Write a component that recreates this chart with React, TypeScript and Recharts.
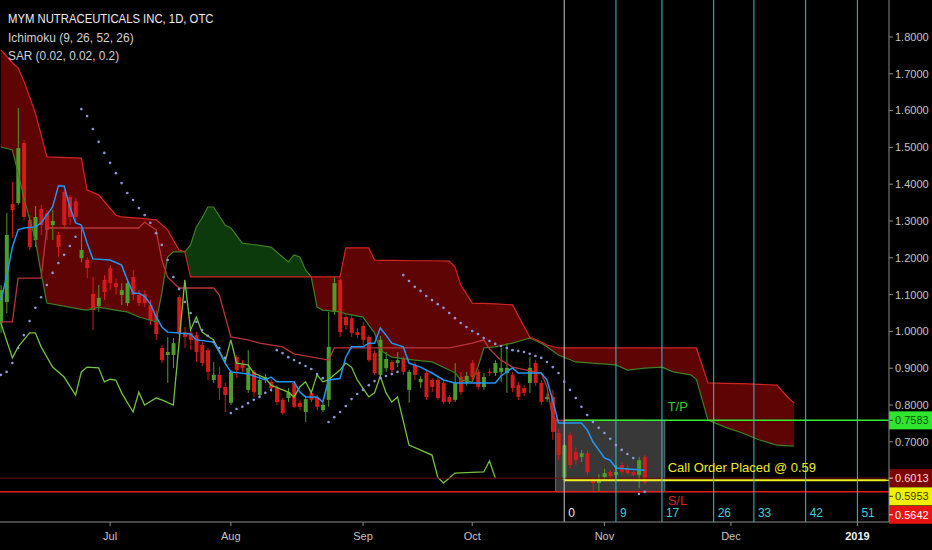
import React from 'react';
import {
  ComposedChart,
  Bar,
  Line,
  Area,
  XAxis,
  YAxis,
  ReferenceLine,
  ReferenceArea,
  ReferenceDot,
} from 'recharts';

// Daily candles, one per bar: [open, high, low, close]
const candles: number[][] = [
  [1.023, 1.126, 0.996, 1.112], [1.08, 1.322, 1.05, 1.262], [1.346, 1.406, 1.254, 1.33], [1.349, 1.607, 1.343, 1.498],
  [1.512, 1.52, 1.303, 1.311], [1.303, 1.316, 1.221, 1.229], [1.248, 1.341, 1.229, 1.311], [1.333, 1.344, 1.262, 1.289],
  [1.322, 1.33, 1.248, 1.276], [1.289, 1.33, 1.248, 1.3], [1.262, 1.27, 1.202, 1.229], [1.379, 1.384, 1.281, 1.289],
  [1.365, 1.371, 1.289, 1.311], [1.354, 1.362, 1.297, 1.311], [1.199, 1.281, 1.188, 1.221], [1.194, 1.202, 1.145, 1.172],
  [1.102, 1.148, 1.004, 1.058], [1.069, 1.126, 1.053, 1.091], [1.14, 1.153, 1.085, 1.107], [1.172, 1.18, 1.112, 1.131],
  [1.131, 1.145, 1.099, 1.12], [1.099, 1.131, 1.072, 1.112], [1.077, 1.14, 1.069, 1.131], [1.148, 1.167, 1.085, 1.099],
  [1.099, 1.112, 1.069, 1.077], [1.102, 1.112, 1.066, 1.077], [1.072, 1.085, 1.017, 1.031], [1.045, 1.058, 0.977, 0.993],
  [0.955, 0.963, 0.914, 0.922], [0.936, 0.985, 0.86, 0.944], [0.936, 0.982, 0.9, 0.968], [1.093, 1.099, 0.985, 0.996],
  [0.998, 1.012, 0.955, 0.985], [0.996, 1.004, 0.949, 0.977], [0.99, 0.998, 0.917, 0.944], [0.963, 0.971, 0.906, 0.914],
  [0.949, 0.955, 0.868, 0.89], [0.868, 0.917, 0.86, 0.882], [0.882, 0.903, 0.814, 0.846], [0.849, 0.86, 0.781, 0.827],
  [0.806, 0.895, 0.8, 0.89], [0.93, 0.936, 0.873, 0.895], [0.909, 0.922, 0.89, 0.901], [0.841, 0.949, 0.833, 0.901],
  [0.89, 0.895, 0.822, 0.835], [0.827, 0.882, 0.819, 0.868], [0.868, 0.884, 0.86, 0.876], [0.863, 0.871, 0.835, 0.846],
  [0.846, 0.854, 0.8, 0.808], [0.814, 0.819, 0.773, 0.778], [0.819, 0.846, 0.808, 0.835], [0.86, 0.863, 0.792, 0.795],
  [0.806, 0.814, 0.786, 0.795], [0.781, 0.825, 0.754, 0.816], [0.833, 0.841, 0.808, 0.814], [0.822, 0.827, 0.786, 0.795],
  [0.786, 0.806, 0.781, 0.8], [0.814, 1.053, 0.795, 0.958], [1.053, 1.15, 1.045, 1.131], [1.14, 1.145, 0.985, 0.998],
  [1.039, 1.05, 1.004, 1.017], [1.036, 1.045, 0.985, 0.996], [0.998, 1.009, 0.982, 0.99], [1.015, 1.026, 0.963, 0.977],
  [0.985, 0.99, 0.917, 0.922], [0.941, 0.949, 0.882, 0.887], [0.882, 0.988, 0.873, 0.977], [0.9, 0.944, 0.89, 0.925],
  [0.917, 0.922, 0.884, 0.895], [0.914, 0.944, 0.903, 0.922], [0.925, 0.933, 0.882, 0.89], [0.841, 0.895, 0.806, 0.89],
  [0.909, 0.917, 0.868, 0.882], [0.862, 0.879, 0.846, 0.871], [0.887, 0.895, 0.814, 0.822], [0.868, 0.873, 0.835, 0.849],
  [0.868, 0.876, 0.814, 0.819], [0.86, 0.868, 0.803, 0.808], [0.822, 0.827, 0.803, 0.808], [0.814, 0.914, 0.808, 0.86],
  [0.876, 0.89, 0.827, 0.835], [0.86, 0.89, 0.852, 0.879], [0.914, 0.922, 0.868, 0.876], [0.89, 0.898, 0.841, 0.849],
  [0.849, 0.887, 0.841, 0.876], [0.89, 0.9, 0.879, 0.887], [0.887, 0.922, 0.879, 0.914], [0.89, 0.955, 0.862, 0.901],
  [0.887, 0.968, 0.833, 0.901], [0.882, 0.89, 0.835, 0.846], [0.854, 0.862, 0.814, 0.822], [0.846, 0.854, 0.825, 0.833],
  [0.86, 0.93, 0.833, 0.901], [0.914, 0.922, 0.852, 0.86], [0.86, 0.868, 0.8, 0.808], [0.816, 0.833, 0.808, 0.822],
  [0.822, 0.841, 0.705, 0.727], [0.724, 0.735, 0.65, 0.664], [0.596, 0.695, 0.589, 0.691], [0.718, 0.726, 0.628, 0.637],
  [0.672, 0.685, 0.637, 0.65], [0.659, 0.678, 0.645, 0.669], [0.669, 0.678, 0.61, 0.618], [0.596, 0.604, 0.564, 0.588],
  [0.588, 0.612, 0.564, 0.596], [0.604, 0.627, 0.596, 0.615], [0.618, 0.623, 0.6, 0.607], [0.61, 0.637, 0.596, 0.618],
  [0.637, 0.645, 0.612, 0.618], [0.629, 0.637, 0.61, 0.615], [0.618, 0.623, 0.607, 0.61], [0.61, 0.659, 0.574, 0.65],
  [0.659, 0.664, 0.583, 0.59],
];

// Parabolic SAR, one value per candle
const sar: number[] = [
  0.882, 0.89, 0.914, 0.955, 0.99, 1.028, 1.064, 1.093, 1.126, 1.159, 1.186, 1.208, 1.232, 1.257,
  1.604, 1.585, 1.55, 1.515, 1.485, 1.458, 1.43, 1.403, 1.376, 1.357, 1.335, 1.316, 1.295, 1.267,
  1.235, 1.194, 1.148, 1.115, 1.08, 1.05, 1.026, 1.004, 0.988, 0.971, 0.955, 0.928,
  0.778, 0.789, 0.795, 0.805, 0.814, 0.822, 0.833, 0.841,
  0.949, 0.941, 0.93, 0.922, 0.914, 0.906, 0.898, 0.884, 0.873,
  0.754, 0.767, 0.781, 0.797, 0.816, 0.83, 0.841, 0.854, 0.865, 0.873, 0.879, 0.884, 0.89,
  1.153, 1.137, 1.121, 1.11, 1.096, 1.085, 1.074, 1.064, 1.05, 1.036, 1.023, 1.012, 1.001, 0.993,
  0.982, 0.974, 0.966, 0.96, 0.955, 0.949, 0.947, 0.944, 0.939, 0.933, 0.928, 0.917, 0.903, 0.887,
  0.863, 0.841, 0.819, 0.795, 0.773, 0.754, 0.738, 0.724, 0.708, 0.691, 0.678, 0.667, 0.656,
  0.558, 0.564,
];

// Ichimoku lines: [bar, value]
const tenkan: number[][] = [
  [0, 1.085], [1, 1.148], [2, 1.229], [3, 1.276], [4, 1.281], [6, 1.284], [7, 1.295], [9, 1.338], [10, 1.395],
  [11, 1.395], [12, 1.338], [13, 1.295], [14, 1.289], [15, 1.24], [16, 1.197], [19, 1.194], [21, 1.18], [22, 1.14],
  [23, 1.104], [24, 1.104], [25, 1.095], [26, 1.075], [27, 1.04], [28, 1.012], [29, 0.998], [33, 0.993], [34, 0.977],
  [37, 0.971], [38, 0.944], [39, 0.914], [40, 0.89], [43, 0.884], [44, 0.879], [46, 0.868], [47, 0.876], [48, 0.863],
  [51, 0.863], [52, 0.835], [53, 0.822], [55, 0.822], [56, 0.808], [57, 0.868], [59, 0.872], [60, 0.93], [61, 0.958],
  [63, 0.958], [64, 0.968], [65, 0.968], [66, 1.009], [67, 0.99], [68, 0.968], [70, 0.958], [71, 0.914], [73, 0.903],
  [75, 0.887], [77, 0.868], [79, 0.86], [86, 0.86], [87, 0.879], [89, 0.901], [90, 0.887], [94, 0.887], [95, 0.868],
  [96, 0.813], [97, 0.751], [101, 0.751], [102, 0.732], [103, 0.7], [105, 0.656], [106, 0.65], [107, 0.629], [112, 0.623],
];
const kijun: number[][] = [
  [0, 1.026], [2, 1.026], [3, 1.145], [7, 1.145], [8, 1.281], [24, 1.281], [25, 1.297], [27, 1.276], [28, 1.194],
  [29, 1.148], [31, 1.118], [37, 1.118], [38, 1.099], [40, 0.985], [43, 0.977], [45, 0.968], [49, 0.958], [51, 0.939],
  [52, 0.936], [57, 0.922], [58, 0.955], [78, 0.955], [82, 0.968], [84, 0.977], [85, 0.952], [87, 0.922], [89, 0.903],
  [94, 0.887], [95, 0.849], [96, 0.765], [97, 0.7583], [112, 0.7583],
];
const chikou: number[][] = [
  [0, 1.023], [2, 0.928], [3, 0.958], [5, 0.996], [6, 0.996], [7, 0.958], [9, 0.903], [11, 0.876], [13, 0.827],
  [14, 0.89], [15, 0.903], [17, 0.901], [18, 0.863], [19, 0.87], [20, 0.868], [21, 0.833], [23, 0.781], [24, 0.835],
  [25, 0.8], [27, 0.819], [28, 0.814], [30, 0.8], [32, 1.14], [33, 1.004], [34, 1.039], [35, 0.998], [37, 0.977],
  [39, 0.917], [40, 0.977], [41, 0.914], [43, 0.909], [44, 0.887], [46, 0.873], [47, 0.854], [50, 0.835], [51, 0.822],
  [52, 0.849], [53, 0.863], [54, 0.833], [55, 0.882], [56, 0.863], [57, 0.868], [58, 0.882], [59, 0.895], [60, 0.914],
  [61, 0.903], [62, 0.868], [64, 0.822], [65, 0.833], [66, 0.879], [67, 0.833], [68, 0.808], [69, 0.822], [71, 0.691],
  [75, 0.664], [76, 0.604], [77, 0.588], [79, 0.615], [84, 0.618], [85, 0.648], [86, 0.602],
];

// Cloud: [bar, leading span A, leading span B]
const cloudRedFirst: number[][] = [
  [0, 1.501, 1.765], [2, 1.493, 1.73], [3, 1.43, 1.716], [4, 1.363, 1.68], [5, 1.306, 1.637], [6, 1.248, 1.593],
  [7, 1.159, 1.534], [8, 1.077, 1.474], [14, 1.06, 1.471], [15, 1.058, 1.384], [17, 1.066, 1.371], [20, 1.058, 1.316],
  [21, 1.055, 1.311], [22, 1.053, 1.31], [24, 1.039, 1.308], [27, 1.026, 1.303], [28, 1.104, 1.29], [29, 1.202, 1.276],
  [30, 1.216, 1.248], [31, 1.216, 1.221], [32, 1.216, 1.216],
];
const cloudGreen: number[][] = [
  [32, 1.216, 1.216], [33, 1.235, 1.148], [34, 1.284, 1.148], [35, 1.308, 1.148], [36, 1.338, 1.148], [37, 1.338, 1.148],
  [39, 1.289, 1.148], [40, 1.281, 1.148], [42, 1.24, 1.148], [47, 1.229, 1.148], [50, 1.189, 1.148], [51, 1.208, 1.148],
  [52, 1.202, 1.148], [53, 1.167, 1.148], [54, 1.148, 1.148],
];
const cloudRedSecond: number[][] = [
  [54, 1.148, 1.148], [55, 1.066, 1.148], [56, 1.058, 1.148], [59, 1.053, 1.148], [60, 1.048, 1.227], [61, 1.045, 1.227],
  [63, 1.039, 1.227], [64, 1.017, 1.227], [65, 0.996, 1.194], [66, 0.949, 1.193], [68, 0.93, 1.193], [72, 0.922, 1.192],
  [75, 0.917, 1.192], [78, 0.895, 1.191], [79, 0.888, 1.175], [80, 0.868, 1.126], [82, 0.863, 1.077], [83, 0.903, 1.076],
  [84, 0.955, 1.076], [86, 0.958, 1.075], [89, 0.968, 1.072], [92, 0.982, 0.985], [94, 0.968, 0.971], [95, 0.958, 0.963],
  [97, 0.936, 0.955], [100, 0.917, 0.955], [107, 0.909, 0.955], [109, 0.895, 0.955], [112, 0.9, 0.955], [115, 0.903, 0.955],
  [117, 0.89, 0.955], [120, 0.882, 0.955], [121, 0.87, 0.955], [123, 0.759, 0.86], [126, 0.74, 0.859], [129, 0.724, 0.858],
  [132, 0.705, 0.856], [135, 0.691, 0.854], [137, 0.689, 0.819], [138, 0.689, 0.805],
];

const monthTicks = [19, 40, 63, 82, 105, 127, 149];
const monthLabels = ['Jul', 'Aug', 'Sep', 'Oct', 'Nov', 'Dec', '2019'];
const priceTicks = [0.7, 0.8, 0.9, 1.0, 1.1, 1.2, 1.3, 1.4, 1.5, 1.6, 1.7, 1.8];
const countBars = [98, 107, 115, 124, 131, 140, 149];
const countLabels = ['0', '9', '17', '26', '33', '42', '51'];
const takeProfit = 0.7583;
const lastPrice = 0.6013;
const entryPrice = 0.5953;
const stopLoss = 0.5642;
const zoneStart = 97;
const zoneEnd = 115;
const orderBar = 98;
const noteBar = 116;
const BAR_COUNT = 155;
const Y_MIN = 0.4821;
const Y_MAX = 1.9005;

const CHART_W = 934;
const CHART_H = 550;
const AXIS_W = 43;
const HALF_BAND = (CHART_W - AXIS_W) / BAR_COUNT / 2;

const RED = '#d41a1a';
const GREEN = '#4d9d2c';
const NARROW = "'Liberation Sans Narrow', 'Liberation Sans', Arial, sans-serif";
const SANS = "'Liberation Sans', Arial, sans-serif";

const table: any[] = Array.from({ length: BAR_COUNT }, (_, k) => ({ k }));
candles.forEach(([o, h, l, c], k) => {
  Object.assign(table[k], { o, h, l, c, range: [l, h] });
});
sar.forEach((v, k) => {
  table[k].sar = v;
});
tenkan.forEach(([k, v]) => {
  table[k].tenkan = v;
});
kijun.forEach(([k, v]) => {
  table[k].kijun = v;
});
chikou.forEach(([k, v]) => {
  table[k].chikou = v;
});
const addCloud = (rows: number[][], key: string) => {
  rows.forEach(([k, a, b]) => {
    table[k].spanA = a;
    table[k].spanB = b;
    table[k][key] = [Math.min(a, b), Math.max(a, b)];
  });
};
addCloud(cloudRedFirst, 'red1');
addCloud(cloudGreen, 'green');
addCloud(cloudRedSecond, 'red2');

const lastBar = BAR_COUNT - 1;

function Candle(props: any) {
  const { x, y, width, height, payload } = props;
  if (!payload || payload.o == null) return null;
  const { o, h, l, c } = payload;
  const top = Math.min(y, y + height);
  const hh = Math.abs(height);
  const ppu = hh / Math.max(h - l, 1e-6);
  const cx = x + width / 2;
  const color = c >= o ? GREEN : RED;
  const bodyTop = top + (h - Math.max(o, c)) * ppu;
  const bodyH = Math.max(Math.abs(o - c) * ppu, 1.2);
  return (
    <g>
      <line x1={cx} x2={cx} y1={top} y2={top + hh} stroke={color} strokeWidth={1} />
      <rect x={cx - 2} y={bodyTop} width={4} height={bodyH} fill={color} />
    </g>
  );
}

const priceTag = (value: number, bg: string, fg: string, shift: number, ext: number, lineColor: string) =>
  (props: any) => {
    const vb = props.viewBox;
    if (!vb) return null;
    const xr = vb.x + vb.width;
    const yc = vb.y + shift;
    return (
      <g>
        {ext > 0 && <line x1={xr} x2={xr + ext} y1={vb.y} y2={vb.y} stroke={lineColor} strokeWidth={1.5} />}
        <rect x={xr + ext} y={yc - 9} width={AXIS_W} height={18} fill={bg} />
        <line x1={xr + ext} x2={xr + ext + 4} y1={yc} y2={yc} stroke={fg} strokeWidth={1} />
        <text x={xr + ext + 6} y={yc + 4} fill={fg} fontSize={11} fontFamily={SANS}>
          {value.toFixed(4)}
        </text>
      </g>
    );
  };

const countLabel = (text: string, color: string) => (props: any) => {
  const vb = props.viewBox;
  if (!vb) return null;
  return (
    <text x={vb.x + 4} y={vb.y + vb.height - 5} fill={color} fontSize={12} fontFamily={NARROW}>
      {text}
    </text>
  );
};

const note = (text: string, color: string, dy: number) => (props: any) => {
  const vb = props.viewBox;
  if (!vb) return null;
  return (
    <text x={vb.x} y={vb.y + dy} fill={color} fontSize={13} fontFamily={SANS}>
      {text}
    </text>
  );
};

function MonthTick(props: any) {
  const { x, y, payload } = props;
  const i = monthTicks.indexOf(payload.value);
  const label = monthLabels[i] ?? '';
  const year = label === '2019';
  return (
    <text
      x={x}
      y={y}
      dy="0.71em"
      textAnchor="middle"
      fill={year ? '#f2f2f2' : '#c4c4c4'}
      fontSize={11}
      fontWeight={year ? 700 : 400}
      fontFamily={NARROW}
    >
      {label}
    </text>
  );
}

const legendLine = (scale: number): React.CSSProperties => ({
  transform: `scaleX(${scale})`,
  transformOrigin: 'left center',
});

export default function App() {
  return (
    <div
      style={{
        position: 'absolute',
        left: 0,
        top: 0,
        width: 932,
        height: 550,
        background: '#000',
        overflow: 'hidden',
      }}
    >
      <div style={{ position: 'absolute', left: -2, top: 0 }}>
        <ComposedChart
          width={CHART_W}
          height={CHART_H}
          data={table}
          margin={{ top: 0, right: 0, left: 0, bottom: 0 }}
        >
          <XAxis
            dataKey="k"
            type="category"
            ticks={monthTicks}
            interval={0}
            height={28}
            tick={<MonthTick />}
            tickSize={4}
            tickMargin={6}
            axisLine={{ stroke: '#8a8a8a' }}
            tickLine={{ stroke: '#8a8a8a' }}
          />
          <YAxis
            orientation="right"
            type="number"
            width={AXIS_W}
            domain={[Y_MIN, Y_MAX]}
            allowDataOverflow
            ticks={priceTicks}
            interval={0}
            tickFormatter={(v: number) => v.toFixed(4)}
            tick={{ fill: '#c4c4c4', fontSize: 11, fontFamily: SANS }}
            tickSize={4}
            tickMargin={2}
            axisLine={{ stroke: '#8a8a8a' }}
            tickLine={{ stroke: '#8a8a8a' }}
          />

          <Area dataKey="red1" stroke="none" fill="#5e0404" fillOpacity={1} connectNulls dot={false} activeDot={false} isAnimationActive={false} />
          <Area dataKey="green" stroke="none" fill="#0d3a0d" fillOpacity={1} connectNulls dot={false} activeDot={false} isAnimationActive={false} />
          <Area dataKey="red2" stroke="none" fill="#5e0404" fillOpacity={1} connectNulls dot={false} activeDot={false} isAnimationActive={false} />

          <Line dataKey="spanA" stroke="#3f7f22" strokeWidth={1.2} dot={false} activeDot={false} connectNulls isAnimationActive={false} />
          <Line dataKey="spanB" stroke="#d22424" strokeWidth={1.2} dot={false} activeDot={false} connectNulls isAnimationActive={false} />
          <Line dataKey="kijun" stroke="#b8343a" strokeWidth={1.3} dot={false} activeDot={false} connectNulls isAnimationActive={false} />
          <Line dataKey="chikou" stroke="#74c23c" strokeWidth={1.3} dot={false} activeDot={false} connectNulls isAnimationActive={false} />

          <Bar dataKey="range" shape={(p: any) => <Candle {...p} />} activeBar={false} isAnimationActive={false} />

          <Line dataKey="tenkan" stroke="#2196f3" strokeWidth={1.5} dot={false} activeDot={false} connectNulls isAnimationActive={false} />
          <Line
            dataKey="sar"
            stroke="none"
            dot={{ r: 1.3, fill: '#8c98d8', stroke: 'none' }}
            activeDot={false}
            isAnimationActive={false}
          />

          <ReferenceLine y={lastPrice} stroke="#6e0c0c" strokeWidth={1} label={priceTag(lastPrice, '#7a0606', '#ffd6d6', 0, 0, '#6e0c0c')} />
          <ReferenceLine y={stopLoss} stroke="#e01e1e" strokeWidth={1.5} label={priceTag(stopLoss, '#e81414', '#ffffff', 23, 0, '#e01e1e')} />

          <ReferenceArea
            x1={zoneStart}
            x2={zoneEnd}
            y1={stopLoss}
            y2={takeProfit}
            fill="#ffffff"
            fillOpacity={0.22}
            stroke="#a0a0a0"
            strokeOpacity={0.6}
          />

          <ReferenceLine
            segment={[{ x: orderBar, y: takeProfit }, { x: lastBar, y: takeProfit }]}
            stroke="#33ee33"
            strokeWidth={1.5}
            label={priceTag(takeProfit, '#2ee62e', '#0c4a0c', 0, HALF_BAND, '#33ee33')}
          />
          <ReferenceLine
            segment={[{ x: orderBar, y: entryPrice }, { x: lastBar, y: entryPrice }]}
            stroke="#f0f020"
            strokeWidth={2}
            label={priceTag(entryPrice, '#f0f000', '#3a3a00', 16, HALF_BAND, '#f0f020')}
          />

          {countBars.map((b, i) => (
            <ReferenceLine
              key={b}
              x={b}
              stroke={i === 0 ? '#c8c8c8' : '#34c2cc'}
              strokeWidth={1}
              label={countLabel(countLabels[i], i === 0 ? '#e8e8e8' : '#3ccfdc')}
            />
          ))}

          <ReferenceDot x={noteBar} y={takeProfit} r={0} fill="none" stroke="none" label={note('T/P', '#2fd12f', -9)} />
          <ReferenceDot
            x={noteBar}
            y={entryPrice}
            r={0}
            fill="none"
            stroke="none"
            label={note('Call Order Placed @ 0.59', '#ecec22', -8)}
          />
          <ReferenceDot x={noteBar} y={stopLoss} r={0} fill="none" stroke="none" label={note('S/L', '#d42020', 13)} />
        </ComposedChart>
      </div>
      <div
        style={{
          position: 'absolute',
          left: 8,
          top: 10,
          fontFamily: SANS,
          fontSize: 13,
          lineHeight: '18.5px',
          color: '#d2d2d2',
          pointerEvents: 'none',
          whiteSpace: 'nowrap',
        }}
      >
        <div style={{ color: '#ececec', ...legendLine(0.87) }}>MYM NUTRACEUTICALS INC, 1D, OTC</div>
        <div style={legendLine(0.92)}>Ichimoku (9, 26, 52, 26)</div>
        <div style={legendLine(0.91)}>SAR (0.02, 0.02, 0.2)</div>
      </div>
    </div>
  );
}
